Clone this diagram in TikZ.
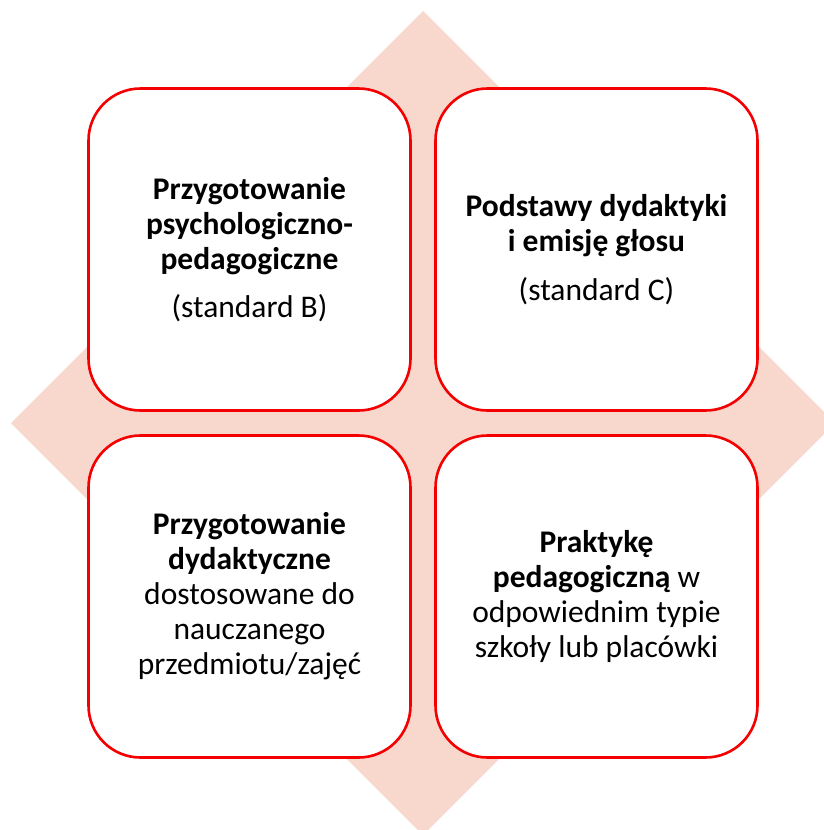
\documentclass[tikz,border=0pt]{standalone}
\usepackage{fontspec}
\setmainfont{Carlito}
\definecolor{boxred}{RGB}{245,0,0}
\definecolor{diamondfill}{RGB}{248,215,205}
\begin{document}
\begin{tikzpicture}[x=1pt,y=-1pt,
  quadbox/.style={draw=boxred, line width=2.6pt, fill=white, rounded corners=52pt,
    minimum width=322pt, minimum height=322pt, text width=310pt, align=flush center,
    inner sep=0pt, font=\fontsize{31.5}{35}\selectfont},
]
\useasboundingbox (0,0) rectangle (824,830);
\clip (0,0) rectangle (824,830);
\fill[diamondfill] (423,11) -- (835,423) -- (423,835) -- (11,423) -- cycle;
\node[quadbox] (tl) at (249.5,249.5) {\textbf{Przygotowanie}\\\textbf{psychologiczno-}\\\textbf{pedagogiczne}\\[13pt](standard B)};
\node[quadbox] (tr) at (596.5,249.5) {\textbf{Podstawy dydaktyki}\\\textbf{i emisję głosu}\\[14pt](standard C)};
\node[quadbox] (bl) at (249.5,596.5) {\textbf{Przygotowanie}\\\textbf{dydaktyczne}\\dostosowane do\\nauczanego\\przedmiotu/zajęć};
\node[quadbox] (br) at (596.5,596.5) {\textbf{Praktykę}\\\textbf{pedagogiczną} w\\odpowiednim typie\\szkoły lub placówki};
\end{tikzpicture}
\end{document}
